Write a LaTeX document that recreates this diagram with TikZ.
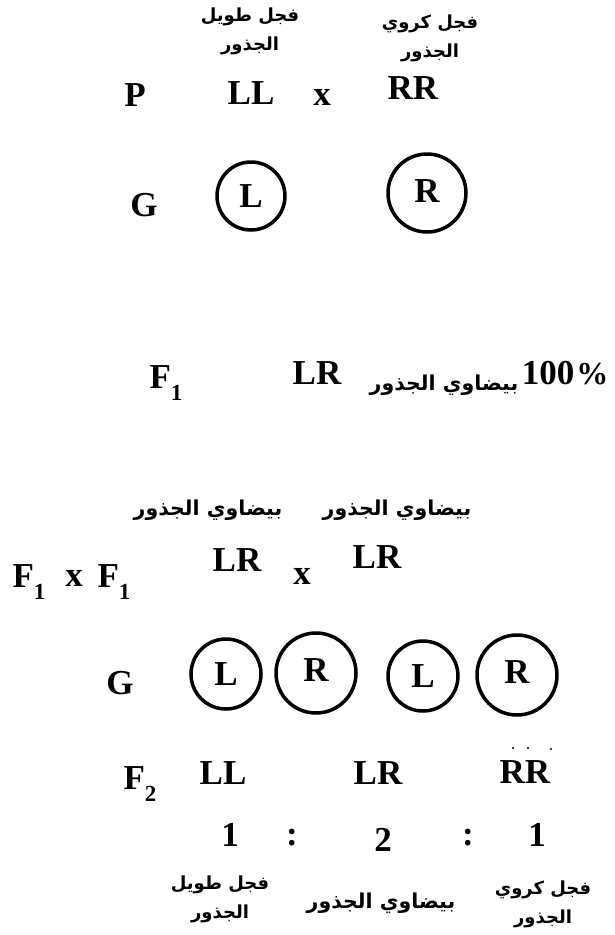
\documentclass[tikz,border=0pt]{standalone}
\usepackage{fontspec}
\setmainfont{Liberation Serif}
\newfontfamily\arabicfont[Script=Arabic]{DejaVu Sans}
\TeXXeTstate=1
\begin{document}
\begin{tikzpicture}[x=1pt,y=-1pt,
  lat/.style={inner sep=0pt,font=\fontsize{35}{35}\selectfont\bfseries},
  ar/.style={inner sep=0pt,align=center,font=\arabicfont\fontsize{18}{29}\selectfont\bfseries},
  arw/.style={inner sep=0pt,align=center,font=\arabicfont\fontsize{20.5}{27}\selectfont\bfseries},
  gam/.style={circle,draw,line width=3.5pt,inner sep=0pt,font=\fontsize{35}{35}\selectfont\bfseries},
  dotm/.style={circle,fill,inner sep=0pt,minimum size=2.2pt}]
\useasboundingbox (0,0) rectangle (614,935);
\newcommand{\subone}[1]{\raisebox{-0.32em}{\fontsize{23}{23}\selectfont\bfseries #1}}
% top generation
\node[ar] (lab1) at (250,31) {\beginR فجل طويل\endR\\\beginR الجذور\endR};
\node[ar] (lab2) at (430,38) {\beginR فجل كروي\endR\\\beginR الجذور\endR};
\node[lat] (P) at (135,95) {P};
\node[lat] (LL) at (251,93) {LL};
\node[lat] (x1) at (322,97) {x};
\node[lat] (RR) at (413,88) {RR};
\node[lat] (G1) at (144,205) {G};
\node[gam,minimum size=68pt] (gL) at (251,196) {L};
\node[gam,minimum size=78pt] (gR) at (427,193) {\raisebox{0.12em}{R}};
% F1
\node[lat] (F1) at (166,383) {F\subone{1}};
\node[lat] (LR1) at (317,373) {LR};
\node[arw] (lab3) at (444,385) {\beginR بيضاوي الجذور\endR};
\node[lat] (pct) at (565,373) {100\hspace{2pt}{\fontsize{32}{32}\selectfont\%}};
% F1 x F1
\node[arw] (lab4) at (208,510) {\beginR بيضاوي الجذور\endR};
\node[arw] (lab5) at (397,510) {\beginR بيضاوي الجذور\endR};
\node[lat] (F1a) at (29,582) {F\subone{1}};
\node[lat] (x2) at (74,578) {x};
\node[lat] (F1b) at (114,582) {F\subone{1}};
\node[lat] (LR2) at (237,560) {LR};
\node[lat] (x3) at (302,576) {x};
\node[lat] (LR3) at (377,557) {LR};
% gametes
\node[lat] (G2) at (120,683) {G};
\node[gam,minimum size=70pt] (g1) at (226,674) {L};
\node[gam,minimum size=80pt] (g2) at (316,673) {\raisebox{0.15em}{R}};
\node[gam,minimum size=70pt] (g3) at (423,676) {L};
\node[gam,minimum size=80pt] (g4) at (517,675) {\raisebox{0.15em}{R}};
% F2
\node[lat] (F2) at (140,784) {F\subone{2}};
\node[lat] (LL2) at (223,773) {LL};
\node[lat] (LR4) at (378,773) {LR};
\node[lat] (RR2) at (525,772) {RR};
\node[dotm] (d1) at (513,748) {};
\node[dotm] (d2) at (528,748) {};
\node[dotm] (d3) at (551,749) {};
\node[lat] (r1) at (230,835) {1};
\node[lat] (c1) at (292,838) {:};
\node[lat] (r2) at (383,840) {2};
\node[lat] (c2) at (468,838) {:};
\node[lat] (r3) at (537,835) {1};
\node[ar] (lab6) at (220,899) {\beginR فجل طويل\endR\\\beginR الجذور\endR};
\node[arw] (lab7) at (381,903) {\beginR بيضاوي الجذور\endR};
\node[ar] (lab8) at (543,904) {\beginR فجل كروي\endR\\\beginR الجذور\endR};
\end{tikzpicture}
\end{document}
